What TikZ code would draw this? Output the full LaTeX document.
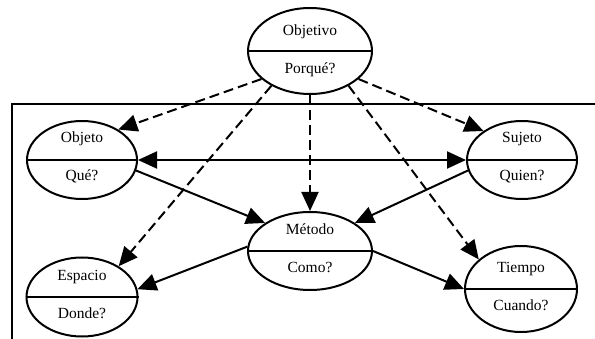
\documentclass[tikz,border=0pt]{standalone}
\usepackage{fontspec}
\setmainfont{Liberation Serif}
\usetikzlibrary{shapes.geometric,arrows.meta}

\tikzset{
  oval/.style={ellipse, draw, line width=2pt, inner sep=0pt},
  divider/.style={line width=2pt},
  lbl/.style={inner sep=0pt, anchor=base, font=\fontsize{15.5}{18}\selectfont},
  frame/.style={line width=1.8pt},
  tip/.style={-{Triangle[length=19pt,width=17pt]}},
  link/.style={line width=2pt, tip},
  dlink/.style={line width=2pt, {Triangle[length=19pt,width=17pt]}-{Triangle[length=19pt,width=17pt]}},
  dashlink/.style={line width=2pt, dash pattern=on 10pt off 5pt, tip}
}

\begin{document}
\begin{tikzpicture}[x=1pt,y=-1pt]
\useasboundingbox (0,0) rectangle (595,339);

% open frame around the lower part
\draw[frame] (595,104) -- (12,104) -- (12,339);

% ellipses
\node[oval, minimum width=124pt, minimum height=86pt] (objetivo) at (310,51) {};
\node[oval, minimum width=110pt, minimum height=78pt] (objeto) at (82,160) {};
\node[oval, minimum width=110pt, minimum height=78pt] (sujeto) at (522,160) {};
\node[oval, minimum width=124pt, minimum height=78pt] (metodo) at (310,251) {};
\node[oval, minimum width=111pt, minimum height=79pt] (espacio) at (82,297) {};
\node[oval, minimum width=112pt, minimum height=86pt] (tiempo) at (521,289) {};

% dividers
\foreach \n in {objetivo,objeto,sujeto,metodo,espacio,tiempo}
  \draw[divider] (\n.west) -- (\n.east);

% labels
\node[lbl] (objetivo-a) at ([yshift=15pt]objetivo.center) {Objetivo};
\node[lbl] (objetivo-b) at ([yshift=-23pt]objetivo.center) {Porqué?};
\node[lbl] (objeto-a) at ([yshift=17pt]objeto.center) {Objeto};
\node[lbl] (objeto-b) at ([yshift=-21pt]objeto.center) {Qué?};
\node[lbl] (sujeto-a) at ([yshift=17pt]sujeto.center) {Sujeto};
\node[lbl] (sujeto-b) at ([yshift=-21pt]sujeto.center) {Quien?};
\node[lbl] (metodo-a) at ([yshift=16pt]metodo.center) {Método};
\node[lbl] (metodo-b) at ([yshift=-22pt]metodo.center) {Como?};
\node[lbl] (espacio-a) at ([yshift=16pt]espacio.center) {Espacio};
\node[lbl] (espacio-b) at ([yshift=-22pt]espacio.center) {Donde?};
\node[lbl] (tiempo-a) at ([yshift=16pt]tiempo.center) {Tiempo};
\node[lbl] (tiempo-b) at ([yshift=-22pt]tiempo.center) {Cuando?};

% dashed links from the goal
\draw[dashlink] (objetivo.210) -- (objeto.40);
\draw[dashlink] (objetivo.330) -- (sujeto.143);
\draw[dashlink] (objetivo.south) -- (metodo.north);
\draw[dashlink] (objetivo.222) -- (espacio.40);
\draw[dashlink] (objetivo.318) -- (tiempo.145);

% solid links
\draw[dlink] (objeto.east) -- (sujeto.west);
\draw[link] (objeto.349) -- (metodo.148);
\draw[link] (sujeto.191) -- (metodo.32);
\draw[link] (metodo.176) -- (espacio.8);
\draw[link] (metodo.east) -- (tiempo.west);
\end{tikzpicture}
\end{document}
